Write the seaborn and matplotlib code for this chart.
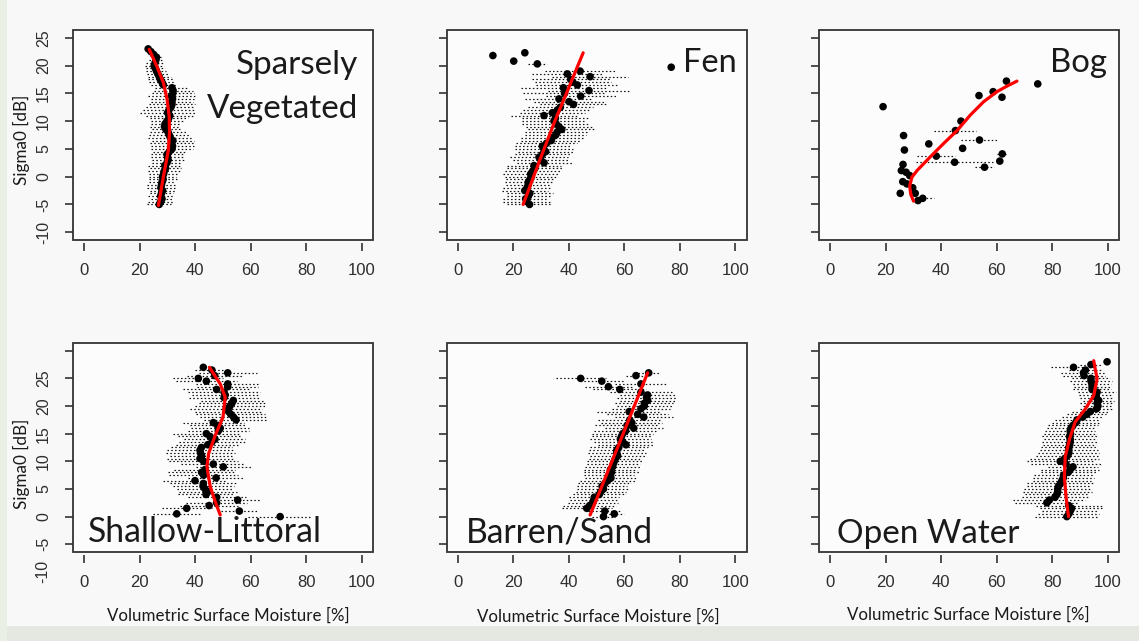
import matplotlib
matplotlib.use("Agg")
import matplotlib.pyplot as plt
import matplotlib.transforms as mtransforms
from matplotlib.patches import Rectangle
from matplotlib import font_manager
import pandas as pd
import seaborn as sns

# ---------------------------------------------------------------- data
# Sparsely Vegetated
sv_sigma = [-5.0, -4.5, -4.0, -3.5, -3.0, -2.5, -2.0, -1.5, -1.0, -0.5,
            0.0, 0.5, 1.0, 1.5, 2.0, 2.5, 3.0, 3.5, 4.0, 4.5,
            5.0, 5.5, 6.0, 6.5, 7.0, 7.5, 8.0, 8.5, 9.0, 9.5,
            10.0, 10.5, 11.0, 11.5, 12.0, 12.5, 13.0, 13.5, 14.0, 14.5,
            15.0, 15.5, 16.0, 16.5, 17.0, 17.5, 18.0, 18.5, 19.0, 19.5,
            20.0, 20.5, 21.0, 21.5, 22.0, 22.5, 23.0]
sv_moist = [27.0, 27.5, 28.0, 27.5, 27.8, 28.2, 27.6, 27.8, 28.0, 28.4,
            28.2, 28.6, 28.8, 29.3, 29.0, 29.8, 30.2, 30.0, 29.8, 30.6,
            31.6, 31.8, 31.5, 31.9, 31.0, 30.6, 30.2, 29.4, 28.9, 29.1,
            29.8, 30.4, 30.8, 30.0, 30.5, 31.2, 31.6, 31.5, 31.8, 31.4,
            31.9, 32.0, 31.6, 28.5, 28.0, 27.4, 27.0, 26.5, 26.0, 25.6,
            25.2, 25.5, 25.8, 26.0, 25.0, 24.0, 23.0]
sv_hw = [4.3, 4.5, 4.0, 4.6, 4.2, 4.4, 5.0, 5.2, 4.8, 5.0,
         4.9, 5.4, 5.8, 5.6, 5.9, 5.5, 5.7, 6.0, 5.6, 5.8,
         7.5, 7.8, 8.0, 7.6, 7.9, 7.4, 6.5, 5.0, 5.4, 5.2,
         5.6, 6.8, 8.5, 10.0, 9.5, 8.8, 8.2, 7.5, 7.8, 8.4,
         7.6, 7.0, 6.2, 4.5, 4.8, 4.6, 4.2, 4.0, 3.6, 3.4,
         3.5, 3.2, 2.5, 1.5, 1.0, 0.8, 0.5]
sv_line_sigma = [-5.2, 0.0, 4.8, 8.0, 10.8, 14.0, 16.9, 19.9, 22.9]
sv_line_moist = [26.7, 28.5, 30.3, 30.7, 30.6, 29.8, 28.5, 26.1, 23.4]

# Fen
fen_sigma = [-5.0, -4.5, -4.0, -3.5, -3.0, -2.5, -2.0, -1.5, -1.0, -0.5,
             0.0, 0.5, 1.0, 1.5, 2.0, 2.5, 3.0, 3.5, 4.0, 4.5,
             5.0, 5.5, 6.0, 6.5, 7.0, 7.5, 8.0, 8.5, 9.0, 9.5,
             10.0, 10.5, 11.0, 11.5, 12.0, 12.5, 13.0, 13.5, 14.0, 14.5,
             15.0, 15.5, 16.0, 16.5, 17.0, 17.5, 18.0, 18.5, 19.0,
             20.3, 20.8, 21.8, 22.3, 19.7]
fen_moist = [25.9, 25.0, 24.5, 25.5, 26.0, 24.2, 25.0, 25.4, 25.4, 26.0,
             26.5, 26.3, 27.0, 27.8, 27.5, 31.1, 30.0, 29.3, 30.5, 31.7,
             31.0, 30.5, 32.0, 33.7, 34.0, 35.3, 35.8, 37.5, 36.5, 35.5,
             34.7, 35.2, 31.1, 34.1, 35.9, 37.0, 41.7, 40.1, 36.5, 44.3,
             38.5, 47.3, 38.1, 43.1, 41.5, 40.7, 47.7, 39.5, 44.1,
             28.7, 20.2, 12.7, 24.2, 76.9]
fen_hw = [8.0, 8.5, 8.2, 7.8, 8.4, 8.2, 8.6, 8.0, 8.4, 8.5,
          9.5, 10.0, 9.8, 10.2, 9.6, 9.9, 10.0, 10.3, 9.8, 10.1,
          10.4, 9.9, 11.0, 10.8, 11.2, 11.0, 11.5, 12.0, 11.8, 12.2,
          11.6, 11.9, 12.0, 11.6, 12.2, 11.8, 12.0, 12.5, 12.3, 12.6,
          15.0, 14.6, 15.2, 14.8, 13.8, 14.0, 13.6, 12.8, 12.5,
          3.5, 0.0, 0.0, 0.0, 0.0]
fen_line_sigma = [-5.0, 3.0, 10.0, 16.0, 22.3]
fen_line_moist = [23.6, 29.6, 35.0, 40.0, 45.2]

# Bog
bog_sigma = [12.6, 7.4, 4.8, 2.2, 1.1, 0.8, 0.2, -0.9, -1.3, -2.0,
             -3.0, -3.0, -4.3, -3.9, 5.9, 3.7, 2.6, 8.3, 10.0, 5.1,
             6.6, 14.6, 15.3, 14.3, 17.2, 16.7, 4.1, 2.8, 1.7]
bog_moist = [19.0, 26.4, 26.7, 26.2, 25.6, 27.3, 28.6, 26.1, 27.6, 29.7,
             25.2, 30.6, 31.6, 33.3, 35.5, 38.2, 44.8, 45.1, 47.1, 47.7,
             53.8, 53.6, 58.7, 61.9, 63.5, 74.8, 62.0, 61.1, 55.6]
bog_hw = [0, 0, 0, 0, 0, 0, 0, 0, 1.0, 0,
          0, 0, 0, 4.2, 0, 6.8, 14.0, 7.6, 0, 0,
          6.8, 0, 0, 0, 0, 0, 2.0, 0, 3.5]
bog_line_sigma = [-4.4, -3.2, -1.7, -0.1, 1.1, 3.6, 6.0, 8.3, 11.1, 13.5, 15.3, 16.3, 17.2]
bog_line_moist = [30.0, 29.0, 28.6, 29.4, 31.25, 36.1, 40.9, 45.7, 50.5, 55.3, 60.1, 63.7, 67.3]

# Shallow-Littoral
sl_sigma = [0.0, 0.5, 1.0, 1.5, 2.0, 2.5, 3.0, 3.5, 4.0, 4.5,
            5.0, 5.5, 6.0, 6.5, 7.0, 7.5, 8.0, 8.5, 9.0, 9.5,
            10.0, 10.5, 11.0, 11.5, 12.0, 12.5, 13.0, 13.5, 14.0, 14.5,
            15.0, 15.5, 16.0, 16.5, 17.0, 17.5, 18.0, 18.5, 19.0, 19.5,
            20.0, 20.5, 21.0, 21.5, 22.0, 22.5, 23.0, 23.5, 24.0, 24.5,
            25.0, 25.5, 26.0, 26.5, 27.0]
sl_moist = [70.6, 33.3, 55.9, 36.9, 45.0, 47.7, 55.3, 47.7, 43.9, 44.5,
            43.5, 42.8, 42.9, 39.9, 47.5, 43.0, 42.3, 43.5, 50.1, 46.5,
            43.0, 41.7, 42.3, 41.9, 41.7, 42.2, 44.5, 46.0, 47.1, 45.3,
            44.0, 48.3, 49.0, 48.0, 46.5, 54.7, 53.8, 52.8, 52.0, 51.2,
            52.5, 53.2, 53.7, 50.4, 50.8, 50.4, 47.7, 51.7, 51.7, 44.0,
            41.1, 47.0, 51.7, 46.0, 42.9]
sl_hw = [11.5, 8.5, 6.5, 9.0, 10.5, 11.0, 8.0, 10.5, 10.0, 10.5,
         10.0, 11.0, 12.0, 11.5, 10.0, 12.5, 12.0, 11.0, 10.0, 11.5,
         12.5, 12.0, 11.5, 12.5, 12.0, 11.0, 11.5, 12.0, 11.0, 11.5,
         12.0, 11.0, 10.5, 10.0, 11.0, 11.5, 12.0, 12.5, 12.0, 13.0,
         12.5, 12.0, 11.5, 12.5, 12.0, 13.0, 12.0, 11.0, 11.5, 11.0,
         9.0, 10.0, 10.5, 6.0, 0.5]
sl_line_sigma = [0.3, 2.7, 5.4, 9.0, 11.4, 14.7, 18.0, 21.6, 24.0, 27.0]
sl_line_moist = [49.0, 47.2, 45.4, 44.2, 44.8, 47.2, 50.0, 50.8, 49.0, 45.1]

# Barren/Sand
bs_sigma = [0.0, 0.5, 1.0, 1.5, 2.0, 2.5, 3.0, 3.5, 4.0, 4.5,
            5.0, 5.5, 6.0, 6.5, 7.0, 7.5, 8.0, 8.5, 9.0, 9.5,
            10.0, 10.5, 11.0, 11.5, 12.0, 12.5, 13.0, 13.5, 14.0, 14.5,
            15.0, 15.5, 16.0, 16.5, 17.0, 17.5, 18.0, 18.5, 19.0, 19.5,
            20.0, 20.5, 21.0, 21.5, 22.0, 22.5, 23.0, 23.5, 24.0, 24.5,
            25.0, 25.5, 26.0]
bs_moist = [52.5, 56.4, 53.0, 46.5, 47.5, 48.6, 49.0, 49.2, 51.0, 51.5,
            52.5, 52.0, 53.0, 54.0, 55.2, 54.5, 55.4, 55.0, 55.8, 56.0,
            56.4, 56.8, 57.6, 57.3, 57.3, 58.0, 60.6, 59.5, 58.6, 59.0,
            59.4, 60.5, 63.4, 61.0, 62.7, 62.0, 67.0, 64.8, 61.8, 66.0,
            67.2, 67.2, 68.4, 68.0, 68.4, 66.0, 58.4, 54.3, 66.0, 51.9,
            44.3, 64.2, 68.8]
bs_hw = [4.0, 3.5, 6.0, 9.0, 9.5, 9.0, 8.5, 9.0, 9.5, 9.0,
         9.5, 9.0, 9.5, 10.0, 9.5, 9.0, 10.0, 9.5, 10.0, 9.5,
         10.0, 9.5, 10.0, 10.5, 10.0, 10.5, 10.0, 10.5, 11.0, 10.5,
         11.0, 11.5, 10.5, 11.5, 11.0, 11.5, 10.5, 11.0, 11.5, 10.5,
         10.0, 10.5, 10.0, 10.5, 10.0, 11.0, 9.5, 8.5, 9.5, 8.0,
         9.0, 3.5, 4.0]
bs_line_sigma = [0.3, 13.0, 26.0]
bs_line_moist = [47.7, 58.0, 68.4]

# Open Water
ow_sigma = [0.0, 0.5, 1.0, 1.5, 2.0, 2.5, 3.0, 3.5, 4.0, 4.5,
            5.0, 5.5, 6.0, 6.5, 7.0, 7.5, 8.0, 8.5, 9.0, 9.5,
            10.0, 10.5, 11.0, 11.5, 12.0, 12.5, 13.0, 13.5, 14.0, 14.5,
            15.0, 15.5, 16.0, 16.5, 17.0, 17.5, 18.0, 18.5, 19.0, 19.5,
            20.0, 20.5, 21.0, 21.5, 22.0, 22.5, 23.0, 23.5, 24.0, 24.5,
            25.0, 25.5, 26.0, 26.5, 27.0, 27.5, 28.0]
ow_moist = [85.3, 86.0, 86.5, 87.0, 86.0, 78.1, 79.0, 81.0, 81.7, 82.0,
            82.0, 82.3, 83.0, 83.5, 84.0, 84.1, 85.8, 86.5, 87.5, 85.0,
            82.9, 84.5, 85.5, 86.0, 86.0, 86.0, 86.3, 86.5, 86.5, 86.3,
            86.6, 86.5, 86.8, 87.5, 88.5, 89.0, 91.0, 92.5, 93.8, 96.0,
            96.5, 96.2, 96.8, 96.0, 95.8, 96.2, 94.4, 94.4, 94.4, 94.0,
            94.0, 91.5, 91.3, 92.0, 87.7, 94.0, 99.8]
ow_hw = [11.5, 11.0, 10.0, 11.5, 12.0, 11.5, 13.0, 12.0, 11.5, 12.5,
         12.0, 11.5, 12.0, 10.5, 11.0, 10.5, 10.0, 10.5, 9.0, 12.5,
         12.0, 12.5, 11.5, 11.0, 10.5, 10.0, 9.5, 10.0, 9.5, 10.0,
         9.5, 9.0, 8.5, 9.0, 8.5, 8.0, 7.5, 7.0, 6.5, 6.0,
         5.5, 6.0, 5.5, 6.0, 6.0, 7.0, 7.0, 6.5, 7.0, 7.5,
         7.0, 7.5, 8.0, 6.0, 8.0, 4.0, 0.5]
ow_line_sigma = [0.0, 3.6, 7.2, 10.8, 14.1, 17.1, 19.5, 21.9, 24.9, 28.2]
ow_line_moist = [85.9, 85.0, 84.4, 84.7, 86.3, 88.3, 92.0, 95.0, 96.2, 95.0]

x_ticks = [0, 20, 40, 60, 80, 100]
y_ticks_top = [-10, -5, 0, 5, 10, 15, 20, 25]
y_ticks_bottom = [-5, 0, 5, 10, 15, 20, 25, 30]
y_labels_bottom = ["-5", "0", "5", "10", "15", "20", "25", ""]
x_title = "Volumetric Surface Moisture [%]"
y_title = "Sigma0 [dB]"

# ---------------------------------------------------------------- style
sns.set_style("white")


def has_font(name):
    try:
        font_manager.findfont(font_manager.FontProperties(family=name),
                              fallback_to_default=False)
        return True
    except Exception:
        return False


NARROW = "Liberation Sans Narrow" if has_font("Liberation Sans Narrow") else "Liberation Sans"
TITLE = "Lato" if has_font("Lato") else "DejaVu Sans"
plt.rcParams["font.family"] = ["Liberation Sans", "DejaVu Sans"]

W, H = 1139, 641
fig = plt.figure(figsize=(W / 100, H / 100), dpi=100, facecolor="#f8f8f8")
fig.patches.append(Rectangle((0, 0), 1, 15 / H, transform=fig.transFigure,
                             facecolor="#e4e8e1", edgecolor="none", zorder=0))
fig.patches.append(Rectangle((0, 0), 7 / W, 1, transform=fig.transFigure,
                             facecolor="#eaefe6", edgecolor="none", zorder=0))

FRAME = "#333333"
TICKCOL = "#2e2e2e"


def make_axes(x0, y0, x1, y1):
    return fig.add_axes([x0 / W, 1 - y1 / H, (x1 - x0) / W, (y1 - y0) / H])


def draw_panel(ax, sigma, moist, hw, ls, lm, top, label_y):
    df = pd.DataFrame({"sigma": sigma, "moisture": moist, "hw": hw})
    bars = df[df["hw"] > 0]
    ax.hlines(bars["sigma"], bars["moisture"] - bars["hw"], bars["moisture"] + bars["hw"],
              colors="#111111", linestyles=(0, (1.3, 1.9)), linewidth=0.85,
              zorder=2)
    sns.scatterplot(data=df, x="moisture", y="sigma", color="black", s=30,
                    edgecolor="none", linewidth=0, ax=ax, zorder=3, legend=False)
    ldf = pd.DataFrame({"sigma": ls, "moisture": lm})
    sns.lineplot(data=ldf, x="moisture", y="sigma", sort=False, estimator=None,
                 color="#ff0000", linewidth=2.3, ax=ax, zorder=4)
    ax.set_xlim(-4, 104)
    if top:
        ax.set_ylim(-11.4, 26.4)
        ax.set_yticks(y_ticks_top)
        ax.set_yticklabels([str(v) for v in y_ticks_top])
    else:
        ax.set_ylim(-6.4, 31.4)
        ax.set_yticks(y_ticks_bottom)
        ax.set_yticklabels(y_labels_bottom)
    ax.set_xticks(x_ticks)
    ax.set_xticklabels([str(v) for v in x_ticks])
    ax.set_xlabel("")
    ax.set_ylabel("")
    ax.set_facecolor("#fcfcfc")
    for sp in ax.spines.values():
        sp.set_visible(False)
    ax.spines["bottom"].set_position(("outward", 2.2))
    ax.add_patch(Rectangle((0, 0), 1, 1, transform=ax.transAxes, fill=False,
                           edgecolor=FRAME, linewidth=1.3, clip_on=False, zorder=6))
    ax.tick_params(axis="x", bottom=True, direction="out", length=6, width=1.2,
                   color=FRAME, pad=8.5, labelsize=12, labelcolor=TICKCOL)
    ax.tick_params(axis="y", left=True, direction="out", length=6, width=1.2,
                   color=FRAME, pad=10, labelsize=11.5, labelcolor=TICKCOL,
                   labelrotation=90, labelleft=label_y)
    for lab in ax.get_xticklabels():
        lab.set_fontfamily(NARROW)
    for lab in ax.get_yticklabels():
        lab.set_verticalalignment("center")


cols = [(73.3, 372.7), (446.5, 746.5), (819.3, 1118.7)]
top_rows = (30, 240)
bot_rows = (343, 552)

panels = [
    (cols[0], top_rows, sv_sigma, sv_moist, sv_hw, sv_line_sigma, sv_line_moist, True, True),
    (cols[1], top_rows, fen_sigma, fen_moist, fen_hw, fen_line_sigma, fen_line_moist, True, False),
    (cols[2], top_rows, bog_sigma, bog_moist, bog_hw, bog_line_sigma, bog_line_moist, True, False),
    (cols[0], bot_rows, sl_sigma, sl_moist, sl_hw, sl_line_sigma, sl_line_moist, False, True),
    (cols[1], bot_rows, bs_sigma, bs_moist, bs_hw, bs_line_sigma, bs_line_moist, False, False),
    (cols[2], bot_rows, ow_sigma, ow_moist, ow_hw, ow_line_sigma, ow_line_moist, False, False),
]
axes = []
for (cx, ry, s, m, h, ls, lm, top, laby) in panels:
    ax = make_axes(cx[0], ry[0], cx[1], ry[1])
    draw_panel(ax, s, m, h, ls, lm, top, laby)
    axes.append(ax)

# extra "-10" label hanging below the bottom-left frame
ax4 = axes[3]
tr = mtransforms.blended_transform_factory(fig.transFigure, ax4.transData)
fig.text(50 / W, -10, "-10", transform=tr, rotation=90, ha="right", va="center",
         fontsize=11.5, color=TICKCOL, clip_on=False)

renderer = fig.canvas.get_renderer()


def fitted_text(x, y, s, target_w, ha="left", va="baseline", rotation=0, base=20):
    t = fig.text(x / W, 1 - y / H, s, ha=ha, va=va, rotation=rotation,
                 fontsize=base, family=[TITLE, "DejaVu Sans"], color="#1a1a1a")
    bb = t.get_window_extent(renderer)
    size = bb.height if rotation == 90 else bb.width
    t.set_fontsize(base * target_w / size)
    return t


# panel titles
t = fitted_text(358, 118, "Vegetated", 152, ha="right")
fig.text(358 / W, 1 - 74 / H, "Sparsely", ha="right", va="baseline",
         fontsize=t.get_fontsize(), family=[TITLE, "DejaVu Sans"], color="#1a1a1a")
fitted_text(683, 72, "Fen", 54)
fitted_text(1050, 72, "Bog", 57)
fitted_text(88, 542, "Shallow-Littoral", 234)
fitted_text(466, 542, "Barren/Sand", 188)
fitted_text(837, 543, "Open Water", 183)

# axis titles
fitted_text(21, 140, y_title, 90, ha="center", va="center", rotation=90, base=12)
fitted_text(21, 464, y_title, 90, ha="center", va="center", rotation=90, base=12)
fitted_text(228, 616, x_title, 242, ha="center", va="center", base=12)
fitted_text(598, 617, x_title, 242, ha="center", va="center", base=12)
fitted_text(968, 615, x_title, 242, ha="center", va="center", base=12)

fig.savefig("out.png", dpi=100, facecolor=fig.get_facecolor())
